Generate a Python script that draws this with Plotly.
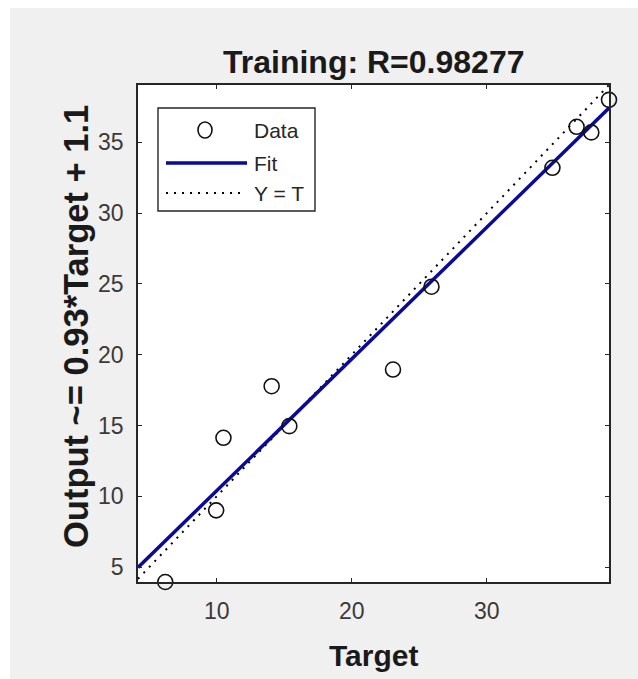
import plotly.graph_objects as go

# ---- data ----
target = [6.18, 9.95, 10.49, 14.06, 15.37, 23.05, 25.9, 34.86, 36.65, 37.74, 39.05]
output = [3.94, 9.0, 14.13, 17.77, 14.95, 18.95, 24.8, 33.2, 36.1, 35.7, 38.0]
fit_slope = 0.93
fit_intercept = 1.1
x_limits = [4.16, 39.05]
y_limits = [3.94, 39.05]
x_ticks = [10, 20, 30]
y_ticks = [5, 10, 15, 20, 25, 30, 35]
legend_names = ["Data", "Fit", "Y = T"]
title_text = "Training: R=0.98277"
x_label = "Target"
y_label = "Output ~= 0.93*Target + 1.1"

W, H = 638, 679
L, R, T, B = 138, 29, 85, 97
PW, PH = W - L - R, H - T - B

def px(x):
    return (x - L) / PW

def py(y):
    return (H - B - y) / PH

FONT = "Liberation Sans, Arial, sans-serif"
AX = "#262626"
FIT_COLOR = "#0a0a9a"

fig = go.Figure()

fit_x = x_limits
fit_y = [fit_slope * v + fit_intercept for v in fit_x]
fig.add_trace(go.Scatter(x=x_limits, y=x_limits, mode="lines",
                         line=dict(color="#000000", width=2, dash="2px,6px"),
                         showlegend=False, hoverinfo="skip"))
fig.add_trace(go.Scatter(x=fit_x, y=fit_y, mode="lines",
                         line=dict(color=FIT_COLOR, width=3.5),
                         showlegend=False, hoverinfo="skip"))
fig.add_trace(go.Scatter(x=target, y=output, mode="markers", cliponaxis=False,
                         marker=dict(symbol="circle-open", size=15,
                                     line=dict(color="#111111", width=1.6),
                                     color="#111111"),
                         showlegend=False))

axis_common = dict(showline=True, linecolor=AX, linewidth=1.6, mirror="ticks",
                   ticks="inside", ticklen=4, tickwidth=1.3, tickcolor=AX,
                   showgrid=False, zeroline=False,
                   tickfont=dict(family=FONT, size=23, color="#3a3a3a"))

fig.update_xaxes(range=x_limits, tickvals=x_ticks, ticklabelstandoff=8, **axis_common)
fig.update_yaxes(range=y_limits, tickvals=y_ticks, ticklabelstandoff=8, **axis_common)

shapes = []
# white border strips (outer frame)
shapes.append(dict(type="rect", xref="paper", yref="paper", x0=px(0), x1=px(10),
                   y0=py(H), y1=py(0), fillcolor="white", line=dict(width=0), layer="below"))
shapes.append(dict(type="rect", xref="paper", yref="paper", x0=px(0), x1=px(W),
                   y0=py(8), y1=py(0), fillcolor="white", line=dict(width=0), layer="below"))

# custom legend
shapes.append(dict(type="rect", xref="paper", yref="paper", x0=px(158), x1=px(315),
                   y0=py(211), y1=py(108), fillcolor="white",
                   line=dict(color=AX, width=1.4), layer="above"))
row_y = [130, 163, 193]
shapes.append(dict(type="circle", xref="paper", yref="paper", xsizemode="pixel",
                   ysizemode="pixel", xanchor=px(205), yanchor=py(row_y[0]),
                   x0=-7, x1=7, y0=-8, y1=8, line=dict(color="#111111", width=1.6),
                   layer="above"))
shapes.append(dict(type="line", xref="paper", yref="paper", x0=px(166), x1=px(247),
                   y0=py(row_y[1]), y1=py(row_y[1]),
                   line=dict(color=FIT_COLOR, width=3.5), layer="above"))
shapes.append(dict(type="line", xref="paper", yref="paper", x0=px(166), x1=px(245),
                   y0=py(row_y[2]), y1=py(row_y[2]),
                   line=dict(color="#000000", width=2, dash="2px,6px"), layer="above"))

annotations = []
for name, ry in zip(legend_names, row_y):
    annotations.append(dict(text=name, xref="paper", yref="paper", x=px(252), y=py(ry),
                            xanchor="left", yanchor="middle", showarrow=False,
                            font=dict(family=FONT, size=21, color="#262626")))

annotations.append(dict(text="<b>" + x_label + "</b>", xref="paper", yref="paper",
                        x=0.5, y=py(655), xanchor="center", yanchor="middle",
                        showarrow=False, font=dict(family=FONT, size=30, color="#1a1a1a")))
annotations.append(dict(text="<b>" + y_label + "</b>", xref="paper", yref="paper",
                        x=px(76), y=py(327), xanchor="center", yanchor="middle", textangle=-90,
                        showarrow=False, font=dict(family=FONT, size=34.5, color="#1a1a1a")))
annotations.append(dict(text="<b>" + title_text + "</b>", xref="paper", yref="paper",
                        x=0.5, y=py(62), xanchor="center", yanchor="middle",
                        showarrow=False, font=dict(family=FONT, size=32, color="#1a1a1a")))

fig.update_layout(width=W, height=H, margin=dict(l=L, r=R, t=T, b=B, autoexpand=False),
                  paper_bgcolor="#f0f0f0", plot_bgcolor="white",
                  shapes=shapes, annotations=annotations, showlegend=False)

fig.write_html("out.html")
